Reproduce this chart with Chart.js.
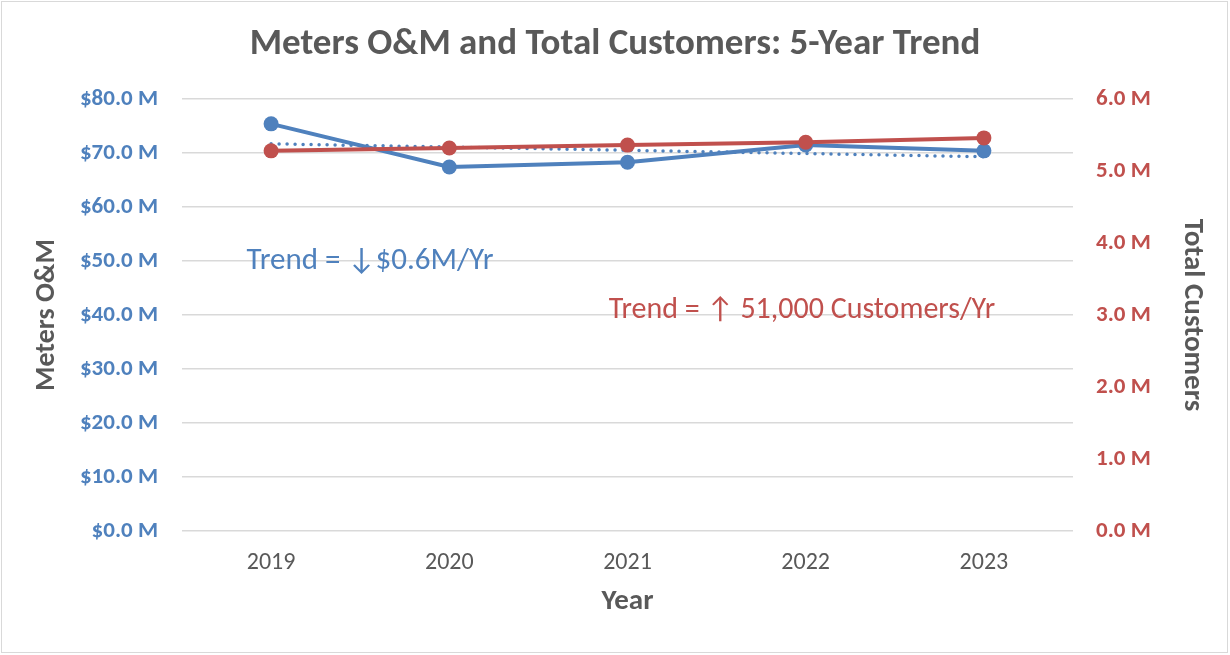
<!DOCTYPE html>
<html>
<head>
<meta charset="utf-8">
<script src="https://cdn.jsdelivr.net/npm/chart.js@4.4.0/dist/chart.umd.min.js"></script>
<style>
  html, body { margin: 0; padding: 0; background: #ffffff; overflow: hidden; }
  #wrap { width: 1230px; height: 655px; position: relative; }
</style>
</head>
<body>
<div id="wrap"><canvas id="chart"></canvas></div>
<script>
// data
const years = ['2019', '2020', '2021', '2022', '2023'];
const metersOM = [75.4, 67.4, 68.3, 71.5, 70.4];          // $ millions
const metersTrend = [71.7, null, null, null, 69.3];       // dotted trend line, ends only
const customers = [5.28, 5.32, 5.36, 5.40, 5.46];        // millions
const leftTicks = [0, 80, 10];   // min, max, step
const rightTicks = [0, 6, 1];

const BLUE = '#4f81bd';
const RED = '#c0504d';
const GREY = '#595959';
const FONT = 'Carlito, Lato, "Liberation Sans", sans-serif';

// title, trend notes and outer frame
const extras = {
    id: 'extras',
    afterDraw(chart) {
        const ctx = chart.ctx;
        ctx.save();
        ctx.strokeStyle = '#d9d9d9';
        ctx.lineWidth = 1;
        ctx.strokeRect(1.5, 1.5, 1226, 651);

        ctx.textAlign = 'center';
        ctx.textBaseline = 'middle';
        ctx.fillStyle = GREY;
        ctx.font = 'bold 37px ' + FONT;
        ctx.fillText('Meters O&M and Total Customers: 5-Year Trend', 615, 45);

        ctx.fillStyle = BLUE;
        ctx.font = '31px ' + FONT;
        ctx.fillText('Trend = \u2193$0.6M/Yr', 370, 261);
        ctx.fillStyle = RED;
        ctx.font = '30px ' + FONT;
        ctx.fillText('Trend = \u2191 51,000 Customers/Yr', 802, 310);
        ctx.restore();
    }
};

const cfg = {
    type: 'line',
    data: {
        labels: years,
        datasets: [
            {
                label: 'Total Customers',
                data: customers,
                yAxisID: 'yRight',
                borderColor: RED,
                backgroundColor: RED,
                borderWidth: 4,
                pointRadius: 7.5,
                pointHoverRadius: 7.5,
                pointBorderWidth: 0
            },
            {
                label: 'Meters O&M',
                data: metersOM,
                yAxisID: 'yLeft',
                borderColor: BLUE,
                backgroundColor: BLUE,
                borderWidth: 4,
                pointRadius: 7.5,
                pointHoverRadius: 7.5,
                pointBorderWidth: 0
            },
            {
                label: 'Trend',
                data: metersTrend,
                yAxisID: 'yLeft',
                spanGaps: true,
                borderColor: BLUE,
                borderWidth: 3.5,
                borderDash: [0, 8],
                borderCapStyle: 'round',
                pointRadius: 0
            }
        ]
    },
    options: {
        responsive: true,
        maintainAspectRatio: false,
        animation: false,
        layout: { padding: { top: 99, left: 0, right: 0, bottom: 0 } },
        plugins: {
            legend: { display: false },
            tooltip: { enabled: false },
            title: { display: false }
        },
        scales: {
            x: {
                offset: true,
                grid: { display: false, drawTicks: false },
                border: { display: false },
                ticks: { color: GREY, font: { family: FONT, size: 24 }, padding: 18 },
                title: {
                    display: true, text: 'Year', color: GREY,
                    font: { family: FONT, size: 29, weight: 'bold' },
                    padding: { top: 0, bottom: 36 }
                },
                afterFit(s) { s.height = 124; }
            },
            yLeft: {
                position: 'left',
                min: leftTicks[0], max: leftTicks[1],
                grid: { color: '#d9d9d9', lineWidth: 1.5, drawTicks: false },
                border: { display: false },
                ticks: {
                    stepSize: leftTicks[2], color: BLUE, padding: 24,
                    font: { family: FONT, size: 23, weight: 'bold' },
                    callback: v => '$' + v.toFixed(1) + ' M'
                },
                title: {
                    display: true, text: 'Meters O&M', color: GREY,
                    font: { family: FONT, size: 28, weight: 'bold' },
                    padding: { top: 30, bottom: 0 }
                },
                afterFit(s) { s.width = 182; }
            },
            yRight: {
                position: 'right',
                min: rightTicks[0], max: rightTicks[1],
                grid: { display: false, drawTicks: false },
                border: { display: false },
                ticks: {
                    stepSize: rightTicks[2], color: RED, padding: 23,
                    font: { family: FONT, size: 23, weight: 'bold' },
                    callback: v => v.toFixed(1) + ' M'
                },
                title: {
                    display: true, text: 'Total Customers', color: GREY,
                    font: { family: FONT, size: 29, weight: 'bold' },
                    padding: { top: 20, bottom: 0 }
                },
                afterFit(s) { s.width = 157; }
            }
        }
    },
    plugins: [extras]
};

new Chart(document.getElementById('chart'), cfg);
</script>
</body>
</html>
